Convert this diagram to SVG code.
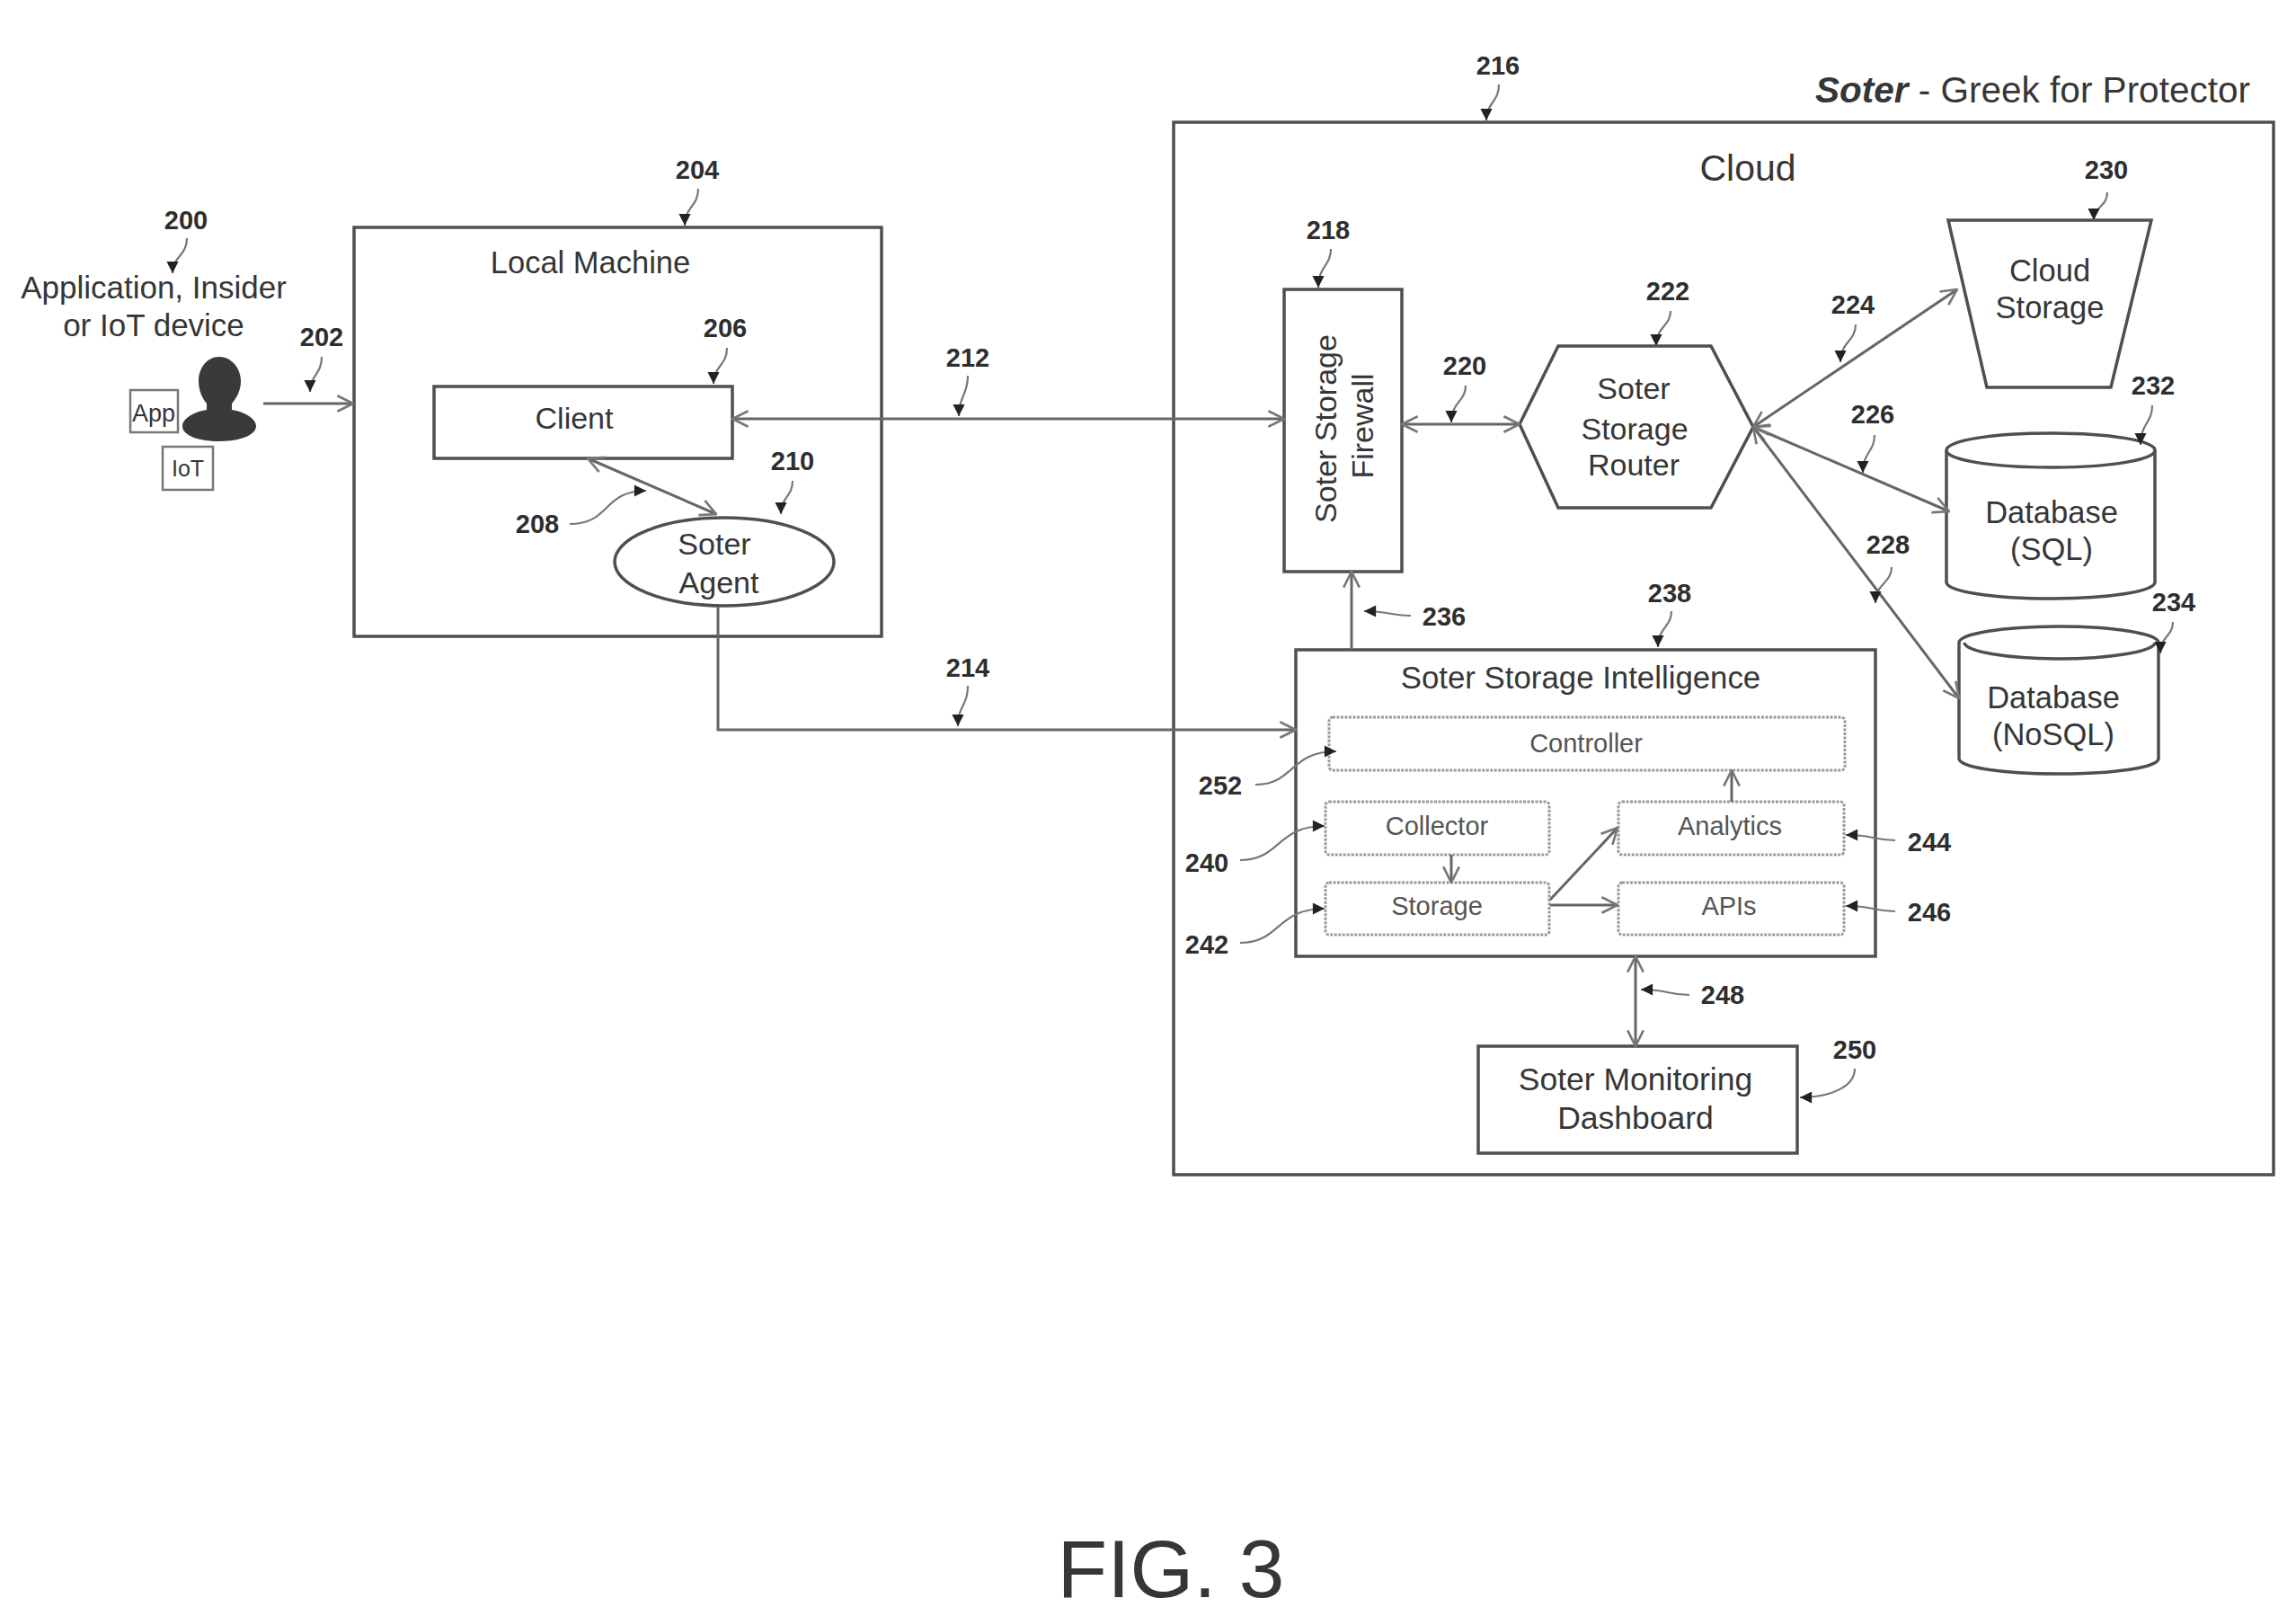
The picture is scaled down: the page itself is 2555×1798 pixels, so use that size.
<svg xmlns="http://www.w3.org/2000/svg" width="2555" height="1798" viewBox="0 0 2555 1798">
<defs>
<style>
text{font-family:"Liberation Sans",Arial,sans-serif;fill:#363636;text-anchor:middle}
.box{fill:#fff;stroke:#4f4f4f;stroke-width:3.5}
.inner{fill:#fff;stroke:#9a9a9a;stroke-width:3;stroke-dasharray:3 1.5}
.t28{font-size:29px;fill:#555}
.n{font-size:29px;font-weight:bold;fill:#2e2e2e}
.c{fill:none;stroke:#666;stroke-width:3;marker-end:url(#open)}
.cb{fill:none;stroke:#666;stroke-width:3;marker-start:url(#open);marker-end:url(#open)}
.l{fill:none;stroke:#777;stroke-width:2.2;marker-end:url(#dot)}
</style>
<marker id="open" viewBox="0 0 20 20" refX="19" refY="10" markerWidth="22" markerHeight="22" markerUnits="userSpaceOnUse" orient="auto-start-reverse"><path d="M3 2L19 10L3 18" fill="none" stroke="#777" stroke-width="2.4"/></marker>
<marker id="dot" viewBox="0 0 16 16" refX="15" refY="8" markerWidth="15" markerHeight="15" markerUnits="userSpaceOnUse" orient="auto"><path d="M1 1L15 8L1 15Z" fill="#222"/></marker>
</defs>
<rect width="2555" height="1798" fill="#fff"/>

<g id="cloud"><rect class="box" x="1306" y="136" width="1224" height="1171"/><text x="1945" y="201" font-size="41">Cloud</text></g>
<g id="caption"><text x="2262" y="114" font-size="40.5"><tspan font-weight="bold" font-style="italic">Soter</tspan> - Greek for Protector</text></g>

<g id="user">
<path d="M244 397C258 397 268 410 268 424C268 436 262 444 258 449V456C272 458 285 466 285 474C285 485 265 491 244 491C222 491 203 485 203 474C203 466 216 458 230 456V449C226 444 221 436 221 424C221 410 230 397 244 397Z" fill="#3a3a3a"/>
<rect x="145" y="434" width="53" height="47" fill="#fff" stroke="#777" stroke-width="2.5"/><text x="171" y="469" font-size="27" fill="#555">App</text>
<rect x="181" y="497" width="56" height="48" fill="#fff" stroke="#777" stroke-width="2.5"/><text x="209" y="530" font-size="25" fill="#555">IoT</text>
<text x="171" y="332" font-size="35">Application, Insider</text>
<text x="171" y="374" font-size="35">or IoT device</text>
</g>

<g id="local-machine"><rect class="box" x="394" y="253" width="587" height="455"/><text x="657" y="304" font-size="34.5">Local Machine</text></g>
<g id="client"><rect class="box" x="483" y="430" width="332" height="80"/><text x="639" y="477" font-size="34">Client</text></g>
<g id="agent"><ellipse class="box" cx="806" cy="625" rx="122" ry="49"/><text x="795" y="617" font-size="34">Soter</text><text x="800" y="660" font-size="34">Agent</text></g>

<g id="firewall"><rect class="box" x="1429" y="322" width="131" height="314"/>
<text transform="translate(1487 477) rotate(-90)" font-size="34">Soter Storage</text>
<text transform="translate(1528 474) rotate(-90)" font-size="34">Firewall</text></g>
<g id="router"><path class="box" d="M1691 472L1734 385H1904L1951 475L1904 565H1734Z"/>
<text x="1818" y="444" font-size="34">Soter</text><text x="1819" y="489" font-size="34">Storage</text><text x="1818" y="529" font-size="34">Router</text></g>
<g id="cloud-storage"><path class="box" d="M2168 245H2394L2349 431H2211Z"/><text x="2281" y="313" font-size="34.5">Cloud</text><text x="2281" y="354" font-size="34.5">Storage</text></g>
<g id="db-sql"><path class="box" d="M2166 501C2166 490 2218 482 2282 482C2346 482 2398 490 2398 501V648C2398 658 2346 666 2282 666C2218 666 2166 658 2166 648Z"/><path class="box" fill="none" d="M2166 501C2166 512 2218 520 2282 520C2346 520 2398 512 2398 501"/><text x="2283" y="582" font-size="34.5">Database</text><text x="2283" y="623" font-size="34.5">(SQL)</text></g>
<g id="db-nosql"><path class="box" d="M2180 715C2180 705 2230 697 2291 697C2352 697 2402 705 2402 715V844C2402 854 2352 861 2291 861C2230 861 2180 854 2180 844Z"/><path class="box" fill="none" d="M2186 715C2186 725 2236 733 2291 733C2346 733 2398 725 2398 715"/><text x="2285" y="788" font-size="34.5">Database</text><text x="2285" y="829" font-size="34.5">(NoSQL)</text></g>

<g id="intelligence"><rect class="box" x="1442" y="723" width="645" height="341"/><text x="1759" y="766" font-size="34.8">Soter Storage Intelligence</text></g>
<g id="controller"><rect class="inner" x="1479" y="798" width="574" height="59" rx="4"/><text class="t28" x="1765" y="837">Controller</text></g>
<g id="collector"><rect class="inner" x="1475" y="892" width="249" height="59" rx="4"/><text class="t28" x="1599" y="929">Collector</text></g>
<g id="storage"><rect class="inner" x="1475" y="982" width="249" height="58" rx="4"/><text class="t28" x="1599" y="1018">Storage</text></g>
<g id="analytics"><rect class="inner" x="1801" y="892" width="251" height="59" rx="4"/><text class="t28" x="1925" y="929">Analytics</text></g>
<g id="apis"><rect class="inner" x="1801" y="982" width="251" height="58" rx="4"/><text class="t28" x="1924" y="1018">APIs</text></g>
<g id="dashboard"><rect class="box" x="1645" y="1164" width="355" height="119"/><text x="1820" y="1213" font-size="35.5">Soter Monitoring</text><text x="1820" y="1256" font-size="35.5">Dashboard</text></g>

<g id="connectors">
<path class="c" d="M293 449H393"/>
<path class="cb" d="M815 466H1429"/>
<path class="cb" d="M654 510L797 572"/>
<path class="c" d="M799 675V812H1442"/>
<path class="cb" d="M1560 472H1691"/>
<path class="cb" d="M1951 475L2178 322"/>
<path class="cb" d="M1951 475L2169 569"/>
<path class="cb" d="M1951 475L2180 777"/>
<path class="c" d="M1504 723V636"/>
<path class="cb" d="M1820 1064V1164"/>
<path class="c" d="M1927 892V857"/>
<path class="c" d="M1615 951V982"/>
<path class="c" d="M1725 1001L1800 921"/>
<path class="c" d="M1725 1007H1800"/>
</g>

<g id="leaders">
<path class="l" d="M208 265C208 285 192 285 192 304"/>
<path class="l" d="M358 397C358 417 345 417 345 436"/>
<path class="l" d="M777 210C777 230 762 230 762 251"/>
<path class="l" d="M809 387C809 407 794 407 794 427"/>
<path class="l" d="M634 583C680 583 670 546 719 546"/>
<path class="l" d="M882 535C882 553 869 553 869 572"/>
<path class="l" d="M1077 418C1077 440 1067 440 1067 463"/>
<path class="l" d="M1077 763C1077 785 1066 785 1066 808"/>
<path class="l" d="M1668 94C1668 114 1654 114 1654 134"/>
<path class="l" d="M1481 277C1481 296 1467 296 1467 320"/>
<path class="l" d="M1631 429C1631 447 1615 447 1615 470"/>
<path class="l" d="M1859 346C1859 363 1843 363 1843 385"/>
<path class="l" d="M2065 361C2065 380 2048 380 2048 403"/>
<path class="l" d="M2086 484C2086 503 2073 503 2073 526"/>
<path class="l" d="M2105 631C2105 649 2087 649 2087 671"/>
<path class="l" d="M2345 214C2345 230 2330 230 2330 245"/>
<path class="l" d="M2395 451C2395 471 2382 471 2382 495"/>
<path class="l" d="M2418 692C2418 708 2404 708 2404 727"/>
<path class="l" d="M1570 685C1548 685 1546 680 1518 680"/>
<path class="l" d="M1860 680C1860 698 1845 698 1845 720"/>
<path class="l" d="M1380 957C1425 957 1420 919 1474 919"/>
<path class="l" d="M1380 1049C1425 1049 1420 1011 1474 1011"/>
<path class="l" d="M2109 935C2085 935 2085 929 2054 929"/>
<path class="l" d="M2109 1014C2085 1014 2085 1008 2054 1008"/>
<path class="l" d="M1880 1107C1856 1107 1856 1101 1826 1101"/>
<path class="l" d="M2064 1189C2064 1210 2035 1221 2003 1221"/>
<path class="l" d="M1397 873C1440 873 1435 836 1487 836"/>
</g>

<g id="numerals">
<text class="n" x="207" y="255">200</text><text class="n" x="358" y="385">202</text><text class="n" x="776" y="199">204</text>
<text class="n" x="807" y="375">206</text><text class="n" x="598" y="593">208</text><text class="n" x="882" y="523">210</text>
<text class="n" x="1077" y="408">212</text><text class="n" x="1077" y="753">214</text><text class="n" x="1667" y="83">216</text>
<text class="n" x="1478" y="266">218</text><text class="n" x="1630" y="417">220</text><text class="n" x="1856" y="334">222</text>
<text class="n" x="2062" y="349">224</text><text class="n" x="2084" y="471">226</text><text class="n" x="2101" y="616">228</text>
<text class="n" x="2344" y="199">230</text><text class="n" x="2396" y="439">232</text><text class="n" x="2419" y="680">234</text>
<text class="n" x="1607" y="696">236</text><text class="n" x="1858" y="670">238</text><text class="n" x="1343" y="970">240</text>
<text class="n" x="1343" y="1061">242</text><text class="n" x="2147" y="947">244</text><text class="n" x="2147" y="1025">246</text>
<text class="n" x="1917" y="1117">248</text><text class="n" x="2064" y="1178">250</text><text class="n" x="1358" y="884">252</text>
</g>

<g id="figure-label"><text x="1303" y="1777" font-size="91">FIG. 3</text></g>
</svg>
